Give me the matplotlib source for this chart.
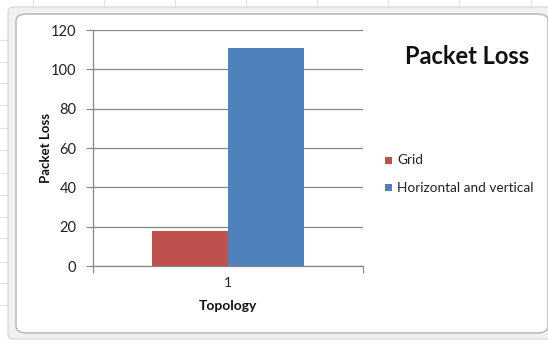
import matplotlib
matplotlib.use("Agg")
import matplotlib.pyplot as plt
from matplotlib.patches import FancyBboxPatch, Rectangle
from matplotlib.lines import Line2D

plt.rcParams["font.family"] = ["Lato", "DejaVu Sans"]

# Packet loss per topology run
series_names = ["Grid", "Horizontal and vertical"]
series_values = [18, 111]
series_colors = ["#C0504D", "#4F81BD"]
categories = ["1"]
y_ticks = [0, 20, 40, 60, 80, 100, 120]

W, H = 548, 341
fig = plt.figure(figsize=(W / 100, H / 100), dpi=100)
fig.patch.set_facecolor("white")


def px(x, y):
    """Convert pixel coords (origin top-left) to figure fractions."""
    return x / W, 1 - y / H


# faint worksheet cells behind the chart object
for gx in [33, 104, 175, 246, 317, 388, 459, 531]:
    fig.add_artist(Line2D([gx / W, gx / W], [1, 1 - 8 / H], color="#e2e2e2", lw=0.8, zorder=-3))
for gy in [40, 62, 83, 105, 128, 150, 173, 195, 217, 238, 262, 283, 305]:
    fig.add_artist(Line2D([0, 7 / W], [1 - gy / H, 1 - gy / H], color="#e2e2e2", lw=0.8, zorder=-3))

# chart object frame
x0, y0 = px(8, 339)
x1, y1 = px(556, 7)
fig.add_artist(FancyBboxPatch((x0, y0), x1 - x0, y1 - y0,
                              boxstyle="round,pad=0,rounding_size=0.012",
                              facecolor="#f0f0f0", edgecolor="#d4d4d4", lw=0.8,
                              transform=fig.transFigure, zorder=-2))
x0, y0 = px(16, 333)
x1, y1 = px(548, 14)
fig.add_artist(FancyBboxPatch((x0, y0), x1 - x0, y1 - y0,
                              boxstyle="round,pad=0,rounding_size=0.02",
                              facecolor="white", edgecolor="#b4b4b4", lw=1.0,
                              transform=fig.transFigure, zorder=-1))

# plot area
left, top = px(93, 30)
right, bottom = px(363, 266)
ax = fig.add_axes([left, bottom, right - left, top - bottom])
ax.set_facecolor("none")

bar_w = 0.282
offsets = [-bar_w / 2, bar_w / 2]
for name, val, col, off in zip(series_names, series_values, series_colors, offsets):
    ax.bar(0 + off, val, width=bar_w, color=col, label=name, zorder=3)

ax.set_xlim(-0.5, 0.5)
ax.set_ylim(0, 120)
ax.set_yticks(y_ticks)
ax.yaxis.grid(True, color="#868686", lw=0.9, zorder=0)
ax.set_axisbelow(True)

ax.set_xticks([-0.5, 0.5])
ax.set_xticklabels([])
ax.set_xticks([0], minor=True)
ax.set_xticklabels(categories, minor=True)
ax.tick_params(axis="x", which="major", direction="out", length=5, color="#868686")
ax.tick_params(axis="x", which="minor", length=0, pad=8, labelsize=10, labelcolor="#222222")
ax.tick_params(axis="y", direction="out", length=5, color="#868686", labelsize=10.5,
               labelcolor="#222222", pad=7)

for s in ["top", "right"]:
    ax.spines[s].set_visible(False)
for s in ["left", "bottom"]:
    ax.spines[s].set_color("#868686")
    ax.spines[s].set_linewidth(0.9)

ax.set_xlabel("Topology", fontsize=10, fontweight="bold", labelpad=8, color="#111111")
ax.set_ylabel("Packet Loss", fontsize=9.5, fontweight="bold", labelpad=-1, color="#111111")

fig.text(*px(467, 57), "Packet Loss", fontsize=17, fontweight="bold",
         ha="center", va="center", color="#111111")

# legend drawn at fixed positions to the right of the plot
for (name, col), ly in zip(zip(series_names, series_colors), [160, 188]):
    sx, sy = px(385, ly + 3.5)
    fig.add_artist(Rectangle((sx, sy), 7 / W, 7 / H, facecolor=col, edgecolor="none",
                             transform=fig.transFigure))
    fig.text(*px(397, ly), name, fontsize=9.8, ha="left", va="center", color="#222222")

fig.savefig("out.png", dpi=100)
